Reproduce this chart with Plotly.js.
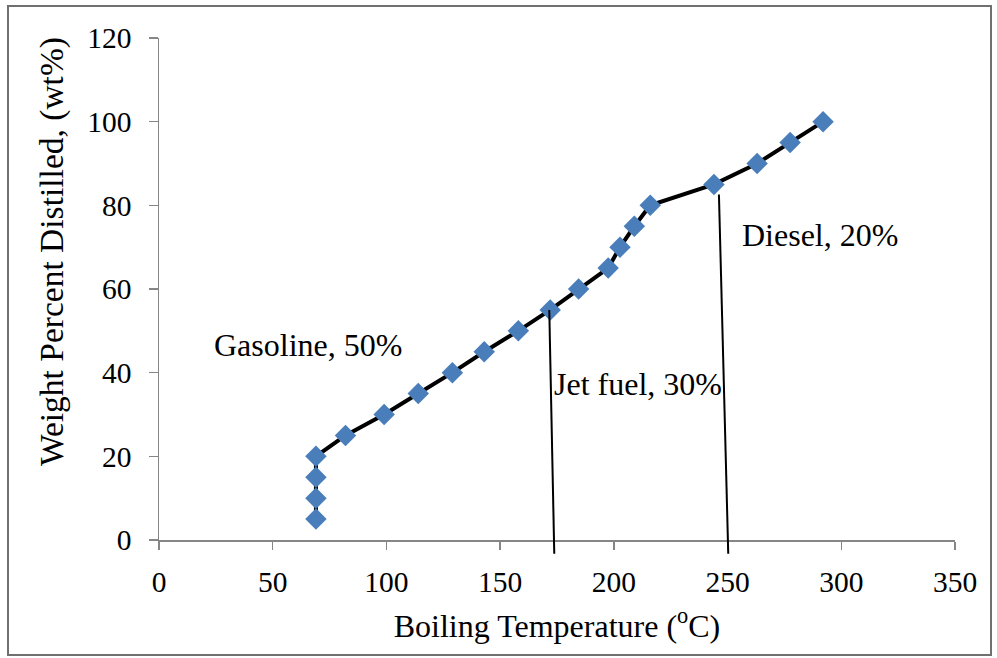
<!DOCTYPE html>
<html>
<head>
<meta charset="utf-8">
<script src="https://cdn.plot.ly/plotly-3.0.1.min.js"></script>
<style>
  html, body { margin: 0; padding: 0; background: #ffffff; }
  #chart { width: 997px; height: 658px; }
</style>
</head>
<body>
<div id="chart"></div>
<script>
// Distillation curve: boiling temperature (°C) vs. cumulative weight percent distilled
const boilingTemp = [69, 69, 69, 69, 82, 99, 114, 129, 143, 158, 172, 184.5, 197.5, 202.7, 209, 216, 244, 263, 277.5, 292];
const wtDistilled = [5, 10, 15, 20, 25, 30, 35, 40, 45, 50, 55, 60, 65, 70, 75, 80, 85, 90, 95, 100];

// Cut-point leader lines (from the curve down through the temperature axis)
const jetCutX = [171.6, 173.8];
const jetCutY = [55, -3.3];
const dieselCutX = [246.2, 250.3];
const dieselCutY = [82.6, -3.3];

// Fraction labels
const fractionText = ['Gasoline, 50%', 'Jet fuel, 30%', 'Diesel, 20%'];
const fractionX = [65.5, 210.5, 290.5];
const fractionY = [46.6, 37.4, 72.8];

const serif = 'Liberation Serif, Times New Roman, serif';
const axisGrey = '#868686';

// Plot area spans 517 px vertically; the visible axis uses the upper 502 px,
// the overlay axis keeps the same scale and reaches a little below zero.
const yMain = [0, 120];
const lowExtent = 15 / 502 * 120;

const traces = [
  {
    x: jetCutX, y: jetCutY, xaxis: 'x', yaxis: 'y2',
    mode: 'lines', line: { color: '#000000', width: 2 },
    hoverinfo: 'skip', showlegend: false
  },
  {
    x: dieselCutX, y: dieselCutY, xaxis: 'x', yaxis: 'y2',
    mode: 'lines', line: { color: '#000000', width: 2 },
    hoverinfo: 'skip', showlegend: false
  },
  {
    x: boilingTemp, y: wtDistilled, xaxis: 'x', yaxis: 'y',
    mode: 'lines+markers',
    line: { color: '#000000', width: 4 },
    marker: { symbol: 'diamond', size: 16.5, color: '#4A7EBB', line: { width: 0 } },
    cliponaxis: false,
    showlegend: false
  }
];

const layout = {
  width: 997,
  height: 658,
  margin: { l: 159, r: 42, t: 38, b: 103, pad: 0 },
  paper_bgcolor: '#ffffff',
  plot_bgcolor: 'rgba(0,0,0,0)',
  showlegend: false,
  font: { family: serif, color: '#000000', size: 29 },
  xaxis: {
    range: [0, 350],
    tickvals: [0, 50, 100, 150, 200, 250, 300, 350],
    ticktext: ['0', '50', '100', '150', '200', '250', '300', '350'],
    showgrid: false,
    zeroline: false,
    showline: true,
    linecolor: axisGrey,
    linewidth: 1.5,
    ticks: 'outside',
    ticklen: 8,
    tickcolor: axisGrey,
    tickwidth: 1.5,
    ticklabelstandoff: 7,
    tickfont: { family: serif, size: 29.5, color: '#000000' },
    title: {
      text: 'Boiling Temperature (<sup>o</sup>C)',
      font: { family: serif, size: 32, color: '#000000' },
      standoff: 17
    },
    anchor: 'y'
  },
  yaxis: {
    domain: [15 / 517, 1],
    range: yMain,
    tickvals: [0, 20, 40, 60, 80, 100, 120],
    ticktext: ['0', '20', '40', '60', '80', '100', '120'],
    showgrid: false,
    zeroline: false,
    showline: true,
    linecolor: axisGrey,
    linewidth: 1.5,
    ticks: 'outside',
    ticklen: 9,
    tickcolor: axisGrey,
    tickwidth: 1.5,
    ticklabelstandoff: 11,
    tickfont: { family: serif, size: 29.5, color: '#000000' },
    anchor: 'x'
  },
  yaxis2: {
    domain: [0, 1],
    range: [-lowExtent, 120],
    visible: false,
    anchor: 'x',
    fixedrange: true
  },
  annotations: [
    {
      text: 'Weight Percent Distilled, (wt%)',
      xref: 'paper', yref: 'paper',
      x: (52 - 159) / 796, y: (555 - 252) / 517,
      xanchor: 'center', yanchor: 'middle',
      textangle: -90, showarrow: false,
      font: { family: serif, size: 33.5, color: '#000000' }
    }
  ].concat(fractionText.map((t, i) => ({
    text: t,
    xref: 'x', yref: 'y',
    x: fractionX[i], y: fractionY[i],
    xanchor: 'center', yanchor: 'middle',
    showarrow: false,
    font: { family: serif, size: 32, color: '#000000' }
  }))),
  shapes: [
    {
      type: 'rect', xref: 'paper', yref: 'paper',
      x0: (8 - 159) / 796, x1: (991 - 159) / 796,
      y0: (555 - 655) / 517, y1: (555 - 6) / 517,
      line: { color: '#707070', width: 2 },
      fillcolor: 'rgba(0,0,0,0)',
      layer: 'below'
    }
  ]
};

Plotly.newPlot('chart', traces, layout, { staticPlot: true, displayModeBar: false });
</script>
</body>
</html>
